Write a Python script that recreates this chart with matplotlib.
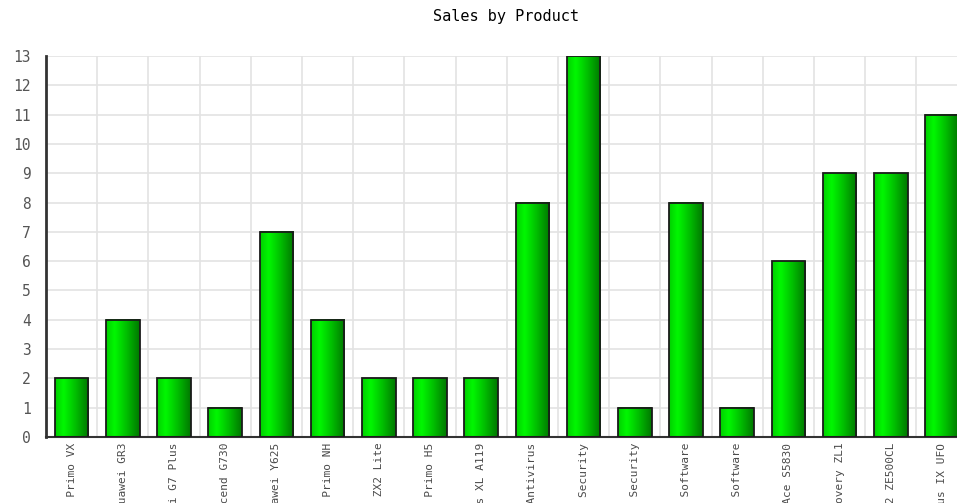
import numpy as np
import matplotlib.pyplot as plt
from matplotlib.colors import LinearSegmentedColormap

# product names (only the tail end shows below the axis, like the original)
products = ['Walton Primo VX', 'Huawei GR3', 'Huawei G7 Plus', 'Huawei Ascend G730',
            'Huawei Y625', 'Walton Primo NH', 'Symphony ZX2 Lite', 'Walton Primo H5',
            'Micromax Canvas XL A119', 'Kaspersky Antivirus', 'Norton Internet Security',
            'Kaspersky Security', 'Microsoft Software', 'Adobe Software',
            'Samsung Galaxy Ace S5830', 'Sony Xperia Discovery ZL1',
            'Asus Zenfone 2 ZE500CL', 'Symphony Xplorer Plus IX UFO']
sales = [2, 4, 2, 1, 7, 4, 2, 2, 2, 8, 13, 1, 8, 1, 6, 9, 9, 11]
yticks = list(range(0, 14))

mono = 'DejaVu Sans Mono'
green = LinearSegmentedColormap.from_list(
    'grn', [(0, '#00d000'), (0.25, '#00f800'), (0.6, '#00c000'), (1, '#007800')])

fig = plt.figure(figsize=(9.57, 5.03), dpi=100)
ax = fig.add_axes([46/957, 66/503, 921.6/957, 381/503])

x = np.arange(len(products))
w = 0.66
grad = np.linspace(0, 1, 64).reshape(1, -1)
for xi, v in zip(x, sales):
    ax.imshow(grad, extent=[xi - w/2, xi + w/2, 0, v], aspect='auto', cmap=green,
              interpolation='bilinear', zorder=2)
ax.bar(x, sales, width=w, facecolor='none', edgecolor='#1a1a1a', linewidth=1.3, zorder=3)

ax.set_xlim(-0.5, len(products) - 0.5)
ax.set_ylim(0, 13)
ax.set_yticks(yticks)
ax.set_xticks(x)
ax.set_xticklabels(products, rotation=90, fontsize=8, family=mono, color='#4a4a4a')
ax.set_xticks(np.arange(0.5, len(products) - 0.5, 1), minor=True)
ax.tick_params(axis='x', which='both', length=0, pad=4)
ax.tick_params(axis='y', length=0, pad=11, labelsize=10.5, labelcolor='#555555')
for lb in ax.get_yticklabels():
    lb.set_family(mono)

ax.grid(axis='y', color='#e3e3e3', linewidth=1.2, zorder=0)
ax.grid(axis='x', which='minor', color='#e3e3e3', linewidth=1.2, zorder=0)
ax.set_axisbelow(True)
for s in ['top', 'right']:
    ax.spines[s].set_visible(False)
ax.spines['left'].set_color('#333333')
ax.spines['left'].set_linewidth(2)
ax.spines['bottom'].set_color('#333333')
ax.spines['bottom'].set_linewidth(1.5)

fig.text(506/957, 1 - 17/503, 'Sales by Product', ha='center', va='center',
         family=mono, fontsize=11, color='black')

fig.savefig('out.png', dpi=100)
